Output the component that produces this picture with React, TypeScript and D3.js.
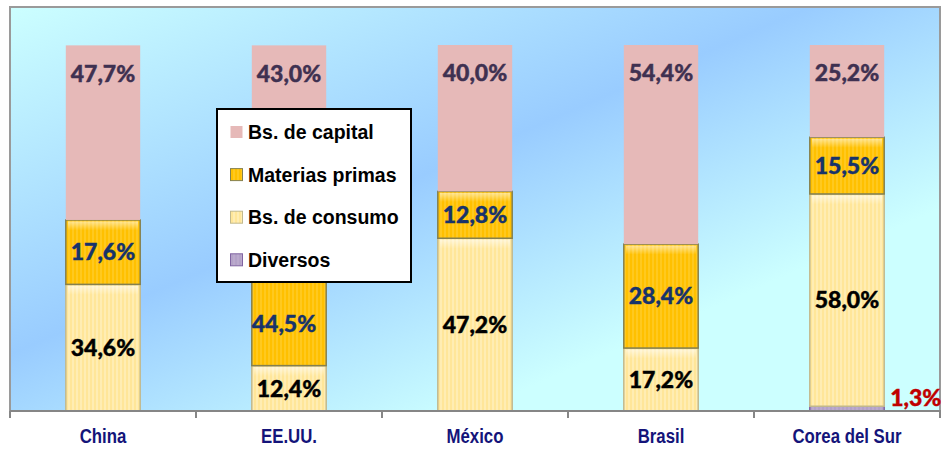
import React, { useEffect, useRef } from "react";
import * as d3 from "d3";

// Data
const categories = ["China", "EE.UU.", "México", "Brasil", "Corea del Sur"];
const capital = [47.7, 43.0, 40.0, 54.4, 25.2];
const materias = [17.6, 44.5, 12.8, 28.4, 15.5];
const consumo = [34.6, 12.4, 47.2, 17.2, 58.0];
const diversos = [0, 0, 0, 0, 1.3];
const seriesNames = ["Bs. de capital", "Materias primas", "Bs. de consumo", "Diversos"];

const App = () => {
  const svgRef = useRef<SVGSVGElement | null>(null);

  useEffect(() => {
    const width = 942;
    const height = 449;
    const plot = { left: 10, top: 7, right: 940, bottom: 411 };

    const svg = d3.select(svgRef.current);
    svg.selectAll("*").remove();
    svg.attr("width", width).attr("height", height);

    const defs = svg.append("defs");

    // background gradient of the plot area
    const bg = defs
      .append("linearGradient")
      .attr("id", "bg")
      .attr("x1", 0)
      .attr("y1", 0)
      .attr("x2", 1)
      .attr("y2", 1);
    bg.append("stop").attr("offset", 0).attr("stop-color", "#CCFFFF");
    bg.append("stop").attr("offset", 0.43).attr("stop-color", "#99CCFF");
    bg.append("stop").attr("offset", 0.75).attr("stop-color", "#CCFFFF");
    bg.append("stop").attr("offset", 1).attr("stop-color", "#CCFFFF");

    // striped textures for the yellow series
    const stripes = (id: string, base: string, line: string) => {
      const p = defs
        .append("pattern")
        .attr("id", id)
        .attr("patternUnits", "userSpaceOnUse")
        .attr("width", 4)
        .attr("height", 4);
      p.append("rect").attr("width", 4).attr("height", 4).attr("fill", base);
      p.append("rect").attr("x", 0).attr("width", 2).attr("height", 4).attr("fill", line);
    };
    stripes("pat-mat", "#FFC000", "#FFC91F");
    stripes("pat-con", "#FFE699", "#FFEDB3");
    stripes("pat-div", "#B3A2C7", "#BBAACD");

    const gloss = defs
      .append("linearGradient")
      .attr("id", "gloss")
      .attr("x1", 0)
      .attr("y1", 0)
      .attr("x2", 0)
      .attr("y2", 1);
    gloss.append("stop").attr("offset", 0).attr("stop-color", "#fff").attr("stop-opacity", 0.55);
    gloss.append("stop").attr("offset", 1).attr("stop-color", "#fff").attr("stop-opacity", 0);

    // plot area
    svg
      .append("rect")
      .attr("x", plot.left)
      .attr("y", plot.top)
      .attr("width", plot.right - plot.left)
      .attr("height", plot.bottom - plot.top)
      .attr("fill", "url(#bg)")
      .attr("stroke", "#9A9A9A")
      .attr("stroke-width", 2);

    // scales
    const x = d3
      .scaleBand()
      .domain(categories)
      .range([plot.left, plot.right])
      .paddingInner(0.6)
      .paddingOuter(0.3);
    const y = d3.scaleLinear().domain([0, 100]).range([plot.bottom, 45]);

    const rows = categories.map((c, i) => ({
      cat: c,
      div: diversos[i],
      con: consumo[i],
      mat: materias[i],
      cap: capital[i],
    }));
    const keys = ["div", "con", "mat", "cap"];
    const stacked = d3.stack().keys(keys)(rows as any);

    const style: Record<string, any> = {
      cap: { fill: "#E6B9B8", stroke: "none", label: "#3F3151" },
      mat: { fill: "url(#pat-mat)", stroke: "#85804F", label: "#17336B" },
      con: { fill: "url(#pat-con)", stroke: "#C2B98E", label: "#000000" },
      div: { fill: "url(#pat-div)", stroke: "#8064A2", label: "#C00000" },
    };

    const fmt = (v: number) => v.toFixed(1).replace(".", ",") + "%";

    // bars
    stacked.forEach((layer) => {
      const key = layer.key;
      const g = svg.append("g");
      layer.forEach((d: any) => {
        const v = d[1] - d[0];
        if (v <= 0) return;
        const bx = x(d.data.cat)!;
        const by = y(d[1]);
        const bh = y(d[0]) - y(d[1]);
        g.append("rect")
          .attr("x", bx)
          .attr("y", by)
          .attr("width", x.bandwidth())
          .attr("height", bh)
          .attr("fill", style[key].fill)
          .attr("stroke", style[key].stroke)
          .attr("stroke-width", 1.5);
        if (key === "mat" || key === "con") {
          g.append("rect")
            .attr("x", bx + 2)
            .attr("y", by + 1.5)
            .attr("width", x.bandwidth() - 4)
            .attr("height", Math.min(9, bh - 3))
            .attr("fill", "url(#gloss)");
        }
      });
    });

    // data labels
    const labels = svg
      .append("g")
      .attr("font-family", "Lato, 'Open Sans', sans-serif")
      .attr("font-weight", 900)
      .attr("font-size", "23px");

    stacked.forEach((layer) => {
      const key = layer.key;
      layer.forEach((d: any, i: number) => {
        const v = d[1] - d[0];
        if (v <= 0) return;
        let lx = x(d.data.cat)! + x.bandwidth() / 2;
        let ly = (y(d[0]) + y(d[1])) / 2;
        let anchor = "middle";
        if (key === "cap") ly = y(d[1]) + 28;
        if (key === "div") {
          lx = x(d.data.cat)! + x.bandwidth() + 6;
          ly = y(d[1]) - 9;
          anchor = "start";
        }
        // EE.UU. materias label sits below the legend box
        if (key === "mat" && i === 1) {
          lx -= 5;
          ly += 40;
        }
        labels
          .append("text")
          .attr("x", lx)
          .attr("y", ly)
          .attr("dy", "0.36em")
          .attr("text-anchor", anchor)
          .attr("fill", style[key].label)
          .attr("stroke", style[key].label)
          .attr("stroke-width", 0.4)
          .text(fmt(v));
      });
    });

    // x axis
    const step = x.step();
    const gap = (step - x.bandwidth()) / 2;
    const axis = svg.append("g");
    axis
      .append("line")
      .attr("x1", plot.left)
      .attr("x2", plot.right + 1)
      .attr("y1", plot.bottom)
      .attr("y2", plot.bottom)
      .attr("stroke", "#868686")
      .attr("stroke-width", 2);
    const tickXs = categories
      .map((c) => x(c)! - gap)
      .concat([x(categories[categories.length - 1])! + x.bandwidth() + gap]);
    axis
      .selectAll(".tick")
      .data(tickXs)
      .enter()
      .append("line")
      .attr("x1", (d) => d)
      .attr("x2", (d) => d)
      .attr("y1", plot.bottom)
      .attr("y2", plot.bottom + 7)
      .attr("stroke", "#868686")
      .attr("stroke-width", 2);
    // narrow bold look: squeeze the regular face horizontally
    axis
      .selectAll(".cat")
      .data(categories)
      .enter()
      .append("text")
      .attr("transform", (d) => `translate(${x(d)! + x.bandwidth() / 2}, 443) scale(0.8, 1)`)
      .attr("text-anchor", "middle")
      .attr("font-family", "'Liberation Sans', Arial, sans-serif")
      .attr("font-weight", "bold")
      .attr("font-size", "21px")
      .attr("fill", "#14147A")
      .text((d) => d);

    // legend
    const legend = svg.append("g").attr("transform", "translate(217,109)");
    legend
      .append("rect")
      .attr("width", 194)
      .attr("height", 173)
      .attr("fill", "#fff")
      .attr("stroke", "#000")
      .attr("stroke-width", 2);
    const legendKeys = ["cap", "mat", "con", "div"];
    seriesNames.forEach((name, i) => {
      const row = legend.append("g").attr("transform", `translate(0, ${23 + i * 42.6})`);
      row
        .append("rect")
        .attr("x", 13.5)
        .attr("y", -6)
        .attr("width", 12)
        .attr("height", 12)
        .attr("fill", style[legendKeys[i]].fill)
        .attr("stroke", style[legendKeys[i]].stroke)
        .attr("stroke-width", 1);
      row
        .append("text")
        .attr("x", 31)
        .attr("y", 0)
        .attr("dy", "0.36em")
        .attr("font-family", "'Liberation Sans', Arial, sans-serif")
        .attr("font-weight", "bold")
        .attr("font-size", "19.5px")
        .attr("fill", "#000")
        .text(name);
    });
  }, []);

  return (
    <div style={{ position: "absolute", left: 0, top: 0, background: "#fff" }}>
      <svg ref={svgRef} style={{ display: "block" }}></svg>
    </div>
  );
};

export default App;
